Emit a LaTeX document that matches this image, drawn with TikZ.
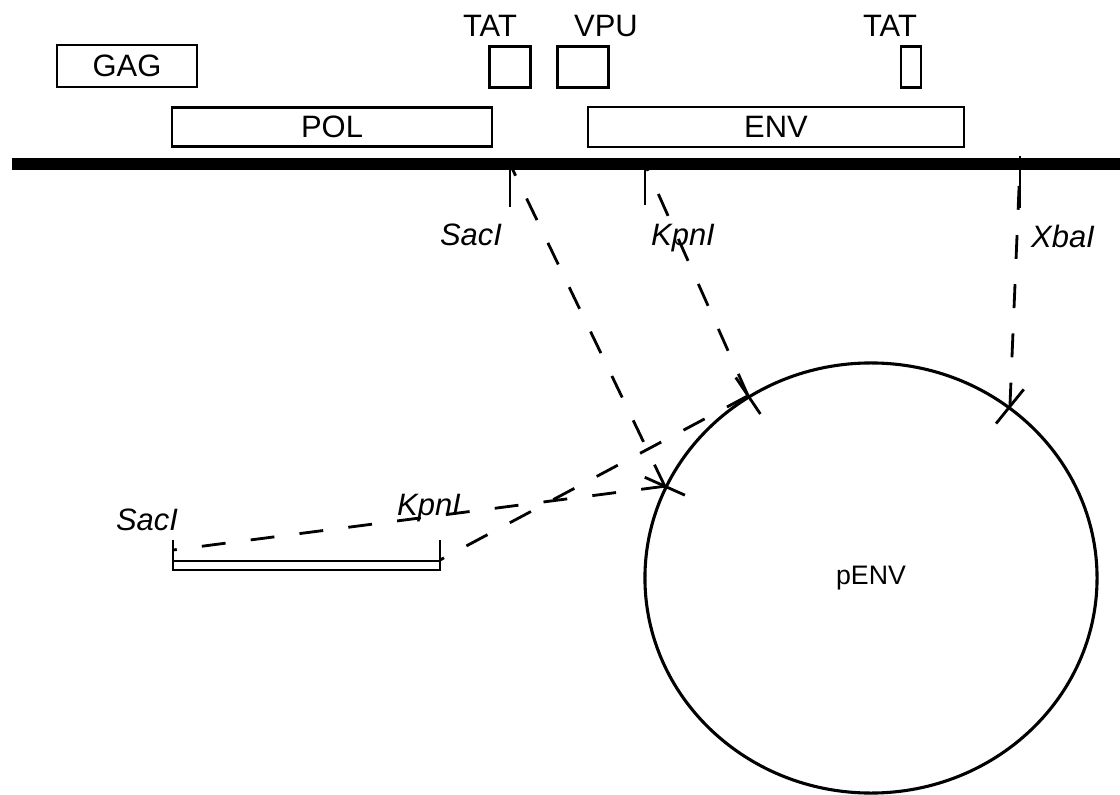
\documentclass[tikz,border=0pt]{standalone}
\usepackage{fontspec}
\setmainfont{Liberation Sans}
\usetikzlibrary{shapes.geometric, calc}

\begin{document}
\begin{tikzpicture}[
        x=0.025cm, y=-0.025cm,
        gene/.style={draw, rectangle, line width=2pt, inner sep=0pt, minimum height=1.02cm, font=\fontsize{22}{24}\selectfont},
        genename/.style={anchor=base, font=\fontsize{22}{24}\selectfont},
        site/.style={anchor=base, font=\fontsize{22}{24}\selectfont\itshape},
        tick/.style={line width=2pt},
        link/.style={line width=2pt, dash pattern=on 17pt off 18pt}
    ]
        \useasboundingbox (0,0) rectangle (1120,795);

        % Genes
        \node (gag) [gene, minimum width=3.5cm, minimum height=1.05cm] at (127,66) {GAG};
        \node (tat1) [gene, minimum width=1.02cm] at (510,67) {};
        \node (vpu) [gene, minimum width=1.27cm] at (583,67) {};
        \node (tat2) [gene, minimum width=0.5cm] at (911,67) {};
        \node (pol) [gene, minimum width=8cm, minimum height=0.98cm] at (332,127) {POL};
        \node (env) [gene, minimum width=9.4cm, minimum height=1cm] at (776,127) {ENV};
        \node (tat1name) [genename] at (490,37) {TAT};
        \node (vpuname) [genename] at (606,37) {VPU};
        \node (tat2name) [genename] at (890,37) {TAT};

        % Provirus
        \coordinate (dnastart) at (12,164);
        \coordinate (dnaend) at (1120,164);
        \draw[line width=8pt] (dnastart) -- (dnaend);
        \coordinate (sacsite) at (510,164);
        \coordinate (kpnsite) at (645,164);
        \coordinate (xbasite) at (1020,164);
        \draw[tick] (sacsite) -- ++(0,43);
        \draw[tick] (kpnsite) -- ++(0,41);
        \draw[tick] (xbasite) ++(0,-8) -- ++(0,52);
        \node (saclabel) [site] at (471,245) {SacI};
        \node (kpnlabel) [site] at (683,245) {KpnI};
        \node (xbalabel) [site] at (1063,247) {XbaI};

        % Plasmid
        \node (penv) [ellipse, draw, line width=2.2pt, inner sep=0pt, minimum width=11.3cm, minimum height=10.75cm, font=\fontsize{19}{22}\selectfont] at (871,578) {pENV};
        \coordinate (saccut) at (penv.156.4);
        \coordinate (kpncut) at (penv.124.6);
        \coordinate (xbacut) at (penv.51.5);
        \foreach \cut in {saccut, kpncut, xbacut}
            \draw[tick] ($(\cut)!0.55cm!(penv.center)$) -- ($(\cut)!-0.55cm!(penv.center)$);

        % Fragment
        \coordinate (fragL) at (173,550);
        \coordinate (fragR) at (440,560);
        \draw[tick] (173,540) -- (173,570) -- (440,570) -- (440,540);
        \draw[tick] (173,561) -- (440,561);
        \node (fragsac) [site] at (147,530) {SacI};
        \node (fragkpn) [site] at (429,515) {KpnI};

        % Links
        \draw[link] (saccut) -- (sacsite);
        \draw[link] (kpncut) -- (kpnsite);
        \draw[link] (xbacut) -- (xbasite);
        \draw[link] (saccut) -- (fragL);
        \draw[link] (kpncut) -- (fragR);
    \end{tikzpicture}
\end{document}
